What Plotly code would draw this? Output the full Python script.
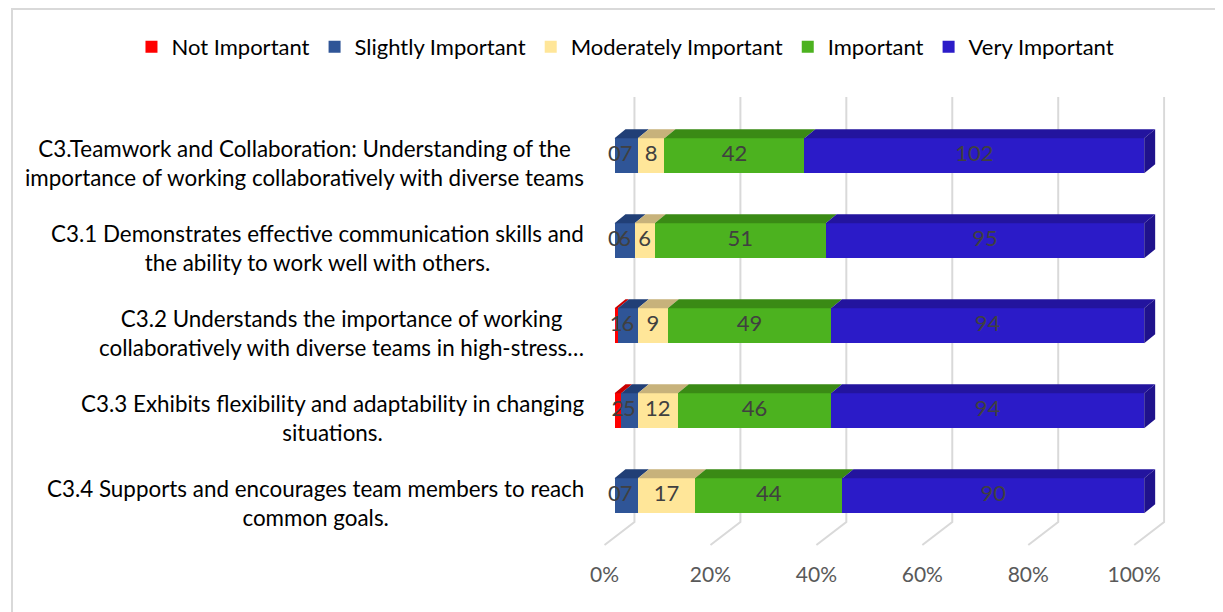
import plotly.graph_objects as go

# ---------------- data ----------------
categories = [
    "C3.Teamwork and Collaboration: Understanding of the<br>importance of working collaboratively with diverse teams",
    "C3.1 Demonstrates effective communication skills and<br>the ability to work well with others.",
    "C3.2 Understands the importance of working<br>collaboratively with diverse teams in high-stress…",
    "C3.3 Exhibits flexibility and adaptability in changing<br>situations.",
    "C3.4 Supports and encourages team members to reach<br>common goals.",
]
series_names = ["Not Important", "Slightly Important", "Moderately Important", "Important", "Very Important"]
not_important = [0, 0, 1, 2, 0]
slightly_important = [7, 6, 6, 5, 7]
moderately_important = [8, 6, 9, 12, 17]
important = [42, 51, 49, 46, 44]
very_important = [102, 95, 94, 94, 90]
tick_values = [0, 20, 40, 60, 80, 100]
tick_labels = ["0%", "20%", "40%", "60%", "80%", "100%"]

series_values = [not_important, slightly_important, moderately_important, important, very_important]

# ---------------- styles ----------------
front_colors = ["#FF0000", "#2F5597", "#FFE699", "#4CB21F", "#2B1BC8"]
top_colors = ["#C80000", "#213F76", "#C7B27B", "#3A8A15", "#23149E"]
side_color = "#1F128C"
FONT = "Lato"
OFF = 8  # page body margin
W, H = 1223 - OFF, 612 - OFF


def px(v):
    return v - OFF


M_T, M_B = px(92), H - px(551)
X_RANGE = [-4, 104]
Y_RANGE = [4.65, -0.75]
px_per_x = 531 / 100.0
x_left_px = px(613) - (0 - X_RANGE[0]) * px_per_x
x_right_px = px(1144) + (X_RANGE[1] - 100) * px_per_x
plot_h = H - M_T - M_B
px_per_y = plot_h / (Y_RANGE[0] - Y_RANGE[1])

bar_w = 35 / px_per_y
dx = 11 / px_per_x
dy = 9 / px_per_y
grid_back = 20 / px_per_x
grid_front = -10 / px_per_x
grid_top = (px(97) - M_T) / px_per_y + Y_RANGE[1]
grid_floor = (px(522) - M_T) / px_per_y + Y_RANGE[1]
grid_front_y = (px(545) - M_T) / px_per_y + Y_RANGE[1]

n = len(categories)
idx = list(range(n))
totals = [sum(s[i] for s in series_values) for i in idx]

fig = go.Figure()

# front faces
for name, vals, col in zip(series_names, series_values, front_colors):
    fig.add_trace(go.Bar(
        x=vals, y=idx, orientation="h", name=name, width=bar_w,
        marker=dict(color=col, line=dict(width=0)),
        hoverinfo="x+name",
    ))

# top faces (computed from the stacked percentages)
lab_x, lab_y, lab_t = [], [], []
cum = [0.0] * n
for k, (vals, col) in enumerate(zip(series_values, top_colors)):
    px_, py_ = [], []
    for i in idx:
        c0 = cum[i]
        c1 = c0 + vals[i] / totals[i] * 100
        yt = i - bar_w / 2
        px_ += [c0, c1, c1 + dx, c0 + dx, c0, None]
        py_ += [yt, yt, yt - dy, yt - dy, yt, None]
        lab_x.append((c0 + c1) / 2)
        lab_y.append(i)
        lab_t.append(str(vals[i]))
        cum[i] = c1
    fig.add_trace(go.Scatter(
        x=px_, y=py_, mode="lines", fill="toself", fillcolor=col,
        line=dict(width=0, color=col), showlegend=False, hoverinfo="skip",
        cliponaxis=False,
    ))

# side face of the last segment
sx, sy = [], []
for i in idx:
    yt, yb = i - bar_w / 2, i + bar_w / 2
    sx += [cum[i], cum[i] + dx, cum[i] + dx, cum[i], cum[i], None]
    sy += [yt, yt - dy, yb - dy, yb, yt, None]
fig.add_trace(go.Scatter(
    x=sx, y=sy, mode="lines", fill="toself", fillcolor=side_color,
    line=dict(width=0, color=side_color), showlegend=False, hoverinfo="skip",
    cliponaxis=False,
))

# data labels
fig.add_trace(go.Scatter(
    x=lab_x, y=lab_y, text=lab_t, mode="text", showlegend=False, hoverinfo="skip",
    textfont=dict(family=FONT, size=22, color="#404040"), cliponaxis=False,
))

# back-wall gridlines + floor
shapes = []
for t in tick_values:
    shapes.append(dict(
        type="path", xref="x", yref="y", layer="below",
        path=f"M {t + grid_back},{grid_top} L {t + grid_back},{grid_floor} L {t + grid_front},{grid_front_y}",
        line=dict(color="#D9D9D9", width=2),
    ))
# chart border
shapes.append(dict(
    type="rect", xref="paper", yref="paper",
    x0=1 / W, x1=px(1216) / W,
    y0=-(M_B + 10) / plot_h, y1=1 + (M_T - 1) / plot_h,
    line=dict(color="#D9D9D9", width=2), fillcolor="rgba(0,0,0,0)", layer="below",
))

annotations = []
for i, c in enumerate(categories):
    annotations.append(dict(
        text=c, xref="paper", yref="y", x=px(584) / W, y=i + 7 / px_per_y,
        xanchor="right", yanchor="middle", align="center", showarrow=False,
        font=dict(family=FONT, size=22.4, color="#000000"),
    ))

fig.update_layout(
    width=W, height=H,
    barmode="stack", barnorm="percent",
    paper_bgcolor="white", plot_bgcolor="rgba(0,0,0,0)",
    margin=dict(l=0, r=0, t=M_T, b=M_B),
    font=dict(family=FONT, size=20, color="#404040"),
    shapes=shapes, annotations=annotations,
    legend=dict(
        orientation="h", x=px(624) / W, xanchor="center",
        y=1 + (M_T - px(47)) / plot_h, yanchor="middle",
        font=dict(family=FONT, size=22, color="#000000"),
        traceorder="normal", itemwidth=30,
    ),
    xaxis=dict(
        domain=[x_left_px / W, x_right_px / W], range=X_RANGE,
        tickvals=tick_values, ticktext=tick_labels, showgrid=False,
        zeroline=False, showline=False, ticks="",
        tickfont=dict(family=FONT, size=21, color="#595959"),
        ticklabelshift=-10, ticklabelstandoff=9, fixedrange=True,
    ),
    yaxis=dict(
        range=Y_RANGE, showticklabels=False, showgrid=False, zeroline=False,
        showline=False, ticks="", fixedrange=True,
    ),
    showlegend=True,
)

fig.write_html("out.html")
